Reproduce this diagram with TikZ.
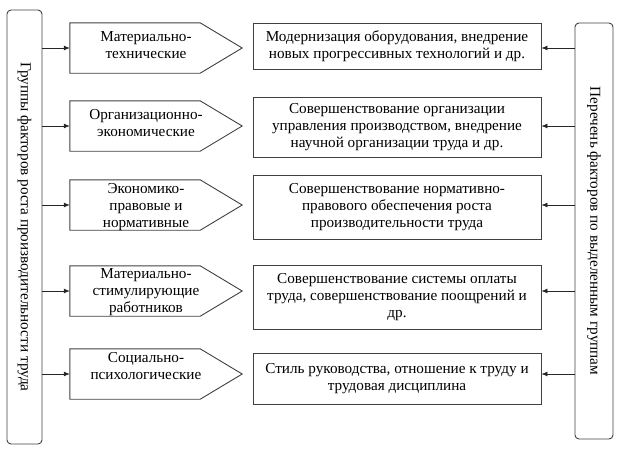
\documentclass[tikz,border=0pt]{standalone}
\usepackage{fontspec}
\setmainfont{Liberation Serif}
\usetikzlibrary{arrows.meta}
\begin{document}
\begin{tikzpicture}[x=1pt,y=-1pt,
  txt/.style={font=\fontsize{15.2}{17}\selectfont},
  frame/.style={draw=black!75, line width=0.9pt, rounded corners=4pt, inner sep=0pt},
  vtext/.style={txt, rotate=-90, inner sep=0pt},
  pent/.style={minimum width=172pt, minimum height=50pt, inner sep=0pt},
  pentline/.style={draw=black!75, line width=0.9pt},
  ptext/.style={txt, align=center, inner sep=0pt},
  rbox/.style={txt, draw=black!75, line width=0.9pt, minimum width=288pt, align=center, inner sep=0pt},
  arr/.style={draw=black!85, line width=0.8pt, -{Latex[length=6pt,width=5pt]}}]
\useasboundingbox (0,0) rectangle (624,453);
% side frames
\node[frame, minimum width=35pt, minimum height=434pt] (L) at (24.5,227) {};
\node[vtext] (Lt) at (L.center) {Группы факторов роста производительности труда};
\node[frame, minimum width=38pt, minimum height=416pt] (R) at (594,231) {};
\node[vtext] (Rt) at (R.center) {Перечень факторов по выделенным группам};
% pentagons
\node[pent] (f1) at (156,48) {};
\node[pent] (f2) at (156,126) {};
\node[pent] (f3) at (156,205) {};
\node[pent] (f4) at (156,291) {};
\node[pent] (f5) at (156,374) {};
\foreach \n in {f1,f2,f3,f4,f5}
  \draw[pentline] (\n.north west) -- ([xshift=-42pt]\n.north east) -- (\n.east)
     -- ([xshift=-42pt]\n.south east) -- (\n.south west) -- cycle;
\node[ptext] (t1) at (146,45) {Материально-\\технические};
\node[ptext] (t2) at (146,123.5) {Организационно-\\экономические};
\node[ptext] (t3) at (146,207) {Экономико-\\правовые и\\нормативные};
\node[ptext] (t4) at (146,292) {Материально-\\стимулирующие\\работников};
\node[ptext] (t5) at (146,366.5) {Социально-\\психологические};
% right boxes
\node[rbox, minimum height=46pt] (b1) at (397,46) {Модернизация оборудования, внедрение\\новых прогрессивных технологий и др.};
\node[rbox, minimum height=60pt] (b2) at (397,127) {Совершенствование организации\\управления производством, внедрение\\научной организации труда и др.};
\node[rbox, minimum height=64pt] (b3) at (397,207) {Совершенствование нормативно-\\правового обеспечения роста\\производительности труда};
\node[rbox, minimum height=64pt] (b4) at (397,297) {Совершенствование системы оплаты\\труда, совершенствование поощрений и\\др.};
\node[rbox, minimum height=51pt] (b5) at (397,378.5) {Стиль руководства, отношение к труду и\\трудовая дисциплина};
% connectors
\foreach \i in {1,...,5} {
  \draw[arr] (L.east |- f\i.west) -- (f\i.west);
  \draw[arr] (R.west |- f\i.west) -- (b\i.east |- f\i.west);
}
\end{tikzpicture}
\end{document}
